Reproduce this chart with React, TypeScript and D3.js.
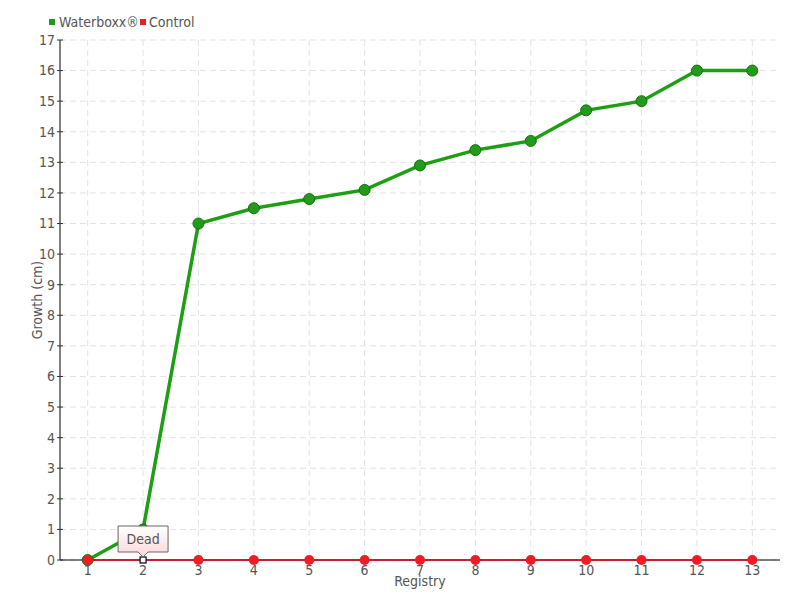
import React from "react";
import * as d3 from "d3";

const categories = ["1","2","3","4","5","6","7","8","9","10","11","12","13"];
const waterboxx = [0,1,11,11.5,11.8,12.1,12.9,13.4,13.7,14.7,15,16,16];
const control = [0,0,0,0,0,0,0,0,0,0,0,0,0];
const yTicks = d3.range(0, 18);
const seriesNames = ["Waterboxx®", "Control"];

const W = 800, H = 600;
const left = 60, right = 780, top = 40, bottom = 560;
const font = "'DejaVu Sans Condensed', 'Liberation Sans Narrow', sans-serif";

export default function App() {
  const x = d3.scaleBand().domain(categories).range([left, right]);
  const y = d3.scaleLinear().domain([0, 17]).range([bottom, top]);
  const cx = (c: string) => (x(c) as number) + x.bandwidth() / 2;
  const line = d3.line<number>().x((_, i) => cx(categories[i])).y(d => y(d));
  const tipX = cx(categories[1]);
  const tipY = y(control[1]);
  return (
    <svg width={W} height={H} style={{ position: "absolute", left: 0, top: 0 }} fontFamily={font}>
      <defs>
        <linearGradient id="tipg" x1="0" y1="0" x2="0" y2="1">
          <stop offset="0" stopColor="#ffffff" />
          <stop offset="1" stopColor="#fcd6d6" />
        </linearGradient>
      </defs>
      <rect width={W} height={H} fill="#fff" />
      {yTicks.map(t => (
        <line key={"gy" + t} x1={left} x2={right} y1={y(t)} y2={y(t)} stroke="#e3e3e3" strokeDasharray="6,4" />
      ))}
      {categories.map(c => (
        <line key={"gx" + c} x1={cx(c)} x2={cx(c)} y1={top} y2={bottom} stroke="#e3e3e3" strokeDasharray="6,4" />
      ))}
      <line x1={left} x2={left} y1={top} y2={bottom} stroke="#000" />
      <line x1={left} x2={right} y1={bottom} y2={bottom} stroke="#000" />
      {yTicks.map(t => (
        <g key={"ty" + t}>
          <line x1={left - 3} x2={left + 3} y1={y(t)} y2={y(t)} stroke="#333" />
          <text x={left - 5} y={y(t)} dy="0.35em" textAnchor="end" fontSize={14} fill="#555">{t}</text>
        </g>
      ))}
      {categories.map(c => (
        <text key={"tx" + c} x={cx(c)} y={bottom + 15} textAnchor="middle" fontSize={14} fill="#555">{c}</text>
      ))}
      <text x={(left + right) / 2} y={586} textAnchor="middle" fontSize={14} fill="#555">Registry</text>
      <text transform={`translate(42,${(top + bottom) / 2}) rotate(-90)`} textAnchor="middle" fontSize={14} fill="#555">Growth (cm)</text>
      <path d={line(waterboxx) || ""} fill="none" stroke="#1e9e12" strokeWidth={3.5} />
      {waterboxx.map((v, i) => (
        <circle key={"g" + i} cx={cx(categories[i])} cy={y(v)} r={5.5} fill="#229a1c" stroke="#14700f" strokeWidth={1} />
      ))}
      <path d={line(control) || ""} fill="none" stroke="#e0001a" strokeWidth={1.5} />
      {control.map((v, i) => i === 1 ? (
        <rect key={"r" + i} x={cx(categories[i]) - 3} y={y(v) - 3} width={6} height={6} fill="#fff" stroke="#000" strokeWidth={1.2} />
      ) : (
        <circle key={"r" + i} cx={cx(categories[i])} cy={y(v)} r={5} fill="#ee1c25" />
      ))}
      <g>
        <path d={`M${tipX - 25},${tipY - 34} h50 v26 h-20 l-5,5 l-5,-5 h-20 z`} fill="url(#tipg)" stroke="#666" strokeWidth={1} />
        <text x={tipX} y={tipY - 16} textAnchor="middle" fontSize={14} fill="#555">Dead</text>
      </g>
      <rect x={49} y={19} width={6} height={6} fill="#1e9e12" />
      <text x={59} y={27} fontSize={14} fill="#555">{seriesNames[0]}</text>
      <rect x={140} y={19} width={6} height={6} fill="#ee1c25" />
      <text x={149} y={27} fontSize={14} fill="#555">{seriesNames[1]}</text>
    </svg>
  );
}
